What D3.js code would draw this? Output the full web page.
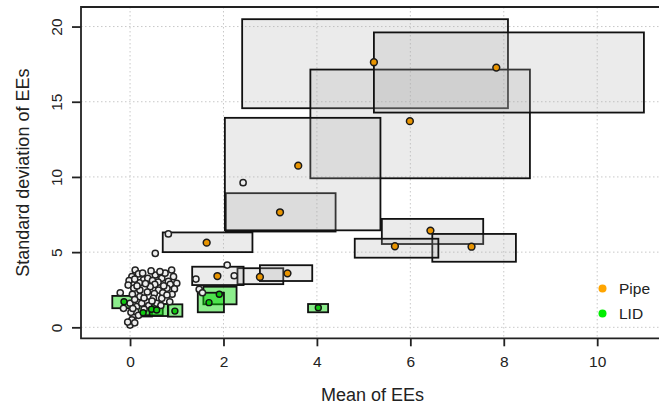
<!DOCTYPE html>
<html><head><meta charset="utf-8">
<script src="https://cdn.jsdelivr.net/npm/d3@7"></script>
<style>body{margin:0;background:#fff}svg{display:block;font-family:"Liberation Sans",Arial,sans-serif}</style>
</head><body><svg id="c" width="659" height="409"></svg>
<script>
// ---- data ----
const xTicks = [0, 2, 4, 6, 8, 10];
const yTicks = [0, 5, 10, 15, 20];
const xLabel = "Mean of EEs";
const yLabel = "Standard deviation of EEs";
const legendLabels = ["Pipe", "LID"];

// Pipe: point (mean, sd) and interval box [xlo,xhi] x [ylo,yhi], in drawing order
const pipeMean = [3.21, 5.22, 5.99, 7.84, 3.60, 1.64, 6.43, 7.31, 5.67, 2.78, 1.87, 3.37];
const pipeSd   = [7.65, 17.63, 13.71, 17.27, 10.75, 5.63, 6.43, 5.36, 5.39, 3.35, 3.41, 3.59];
const pipeXlo  = [2.05, 2.40, 3.86, 5.22, 2.03, 0.70, 5.39, 6.47, 4.81, 2.30, 1.33, 2.78];
const pipeXhi  = [4.40, 8.09, 8.56, 11.00, 5.36, 2.62, 7.56, 8.26, 6.60, 3.28, 2.43, 3.90];
const pipeYlo  = [6.37, 14.57, 9.91, 14.28, 6.45, 5.00, 5.54, 4.36, 4.63, 2.87, 2.81, 3.08];
const pipeYhi  = [8.92, 20.49, 17.14, 19.61, 13.93, 6.31, 7.21, 6.21, 5.89, 3.93, 4.03, 4.13];

// LID
const lidMean = [-0.13, 0.28, 0.46, 0.57, 0.96, 1.91, 1.69, 4.03];
const lidSd   = [1.70, 0.97, 1.20, 1.15, 1.08, 2.20, 1.64, 1.30];
const lidXlo  = [-0.38, 0.14, 0.30, 0.42, 0.81, 1.57, 1.45, 3.81];
const lidXhi  = [0.05, 0.47, 0.70, 0.82, 1.12, 2.28, 2.01, 4.24];
const lidYlo  = [1.27, 0.72, 0.80, 0.75, 0.71, 1.53, 1.00, 1.00];
const lidYhi  = [2.09, 1.45, 1.60, 1.55, 1.53, 2.70, 2.30, 1.55];

// other (grey) points: [mean, sd]
const otherPoints = [
 [0.11,3.81],[0.04,3.37],[0.18,3.55],[-0.02,3.10],[0.29,3.15],[0.20,2.95],[0.54,3.48],[0.68,3.26],
 [0.93,3.37],[0.89,3.81],[0.45,3.75],[0.75,3.60],[0.60,3.00],[0.82,3.05],[1.00,2.93],[0.38,3.25],
 [0.10,3.20],[0.48,3.10],[0.64,3.70],[0.86,2.85],[0.27,3.60],[0.53,2.85],
 [-0.04,2.81],[0.08,2.60],[0.21,2.48],[0.43,2.70],[0.61,2.48],[0.79,2.59],[0.95,2.55],[0.33,2.90],
 [0.52,2.25],[0.70,2.30],[0.90,2.20],[-0.21,2.30],[0.05,2.20],[0.15,2.75],[0.37,2.35],[0.72,2.75],
 [0.21,2.04],[0.36,1.70],[0.50,1.93],[0.68,1.93],[0.57,1.60],[0.79,2.15],[0.00,1.60],[0.14,1.37],
 [0.10,1.85],[0.25,1.60],[0.40,1.45],[0.66,1.45],[0.85,1.70],[-0.14,1.26],[0.30,1.95],[0.47,1.75],
 [0.07,0.71],[0.00,0.15],[0.04,0.49],[0.12,1.05],[0.02,1.00],[0.18,0.80],[0.30,1.20],[-0.05,0.35],
 [0.10,0.30],[0.06,1.25],
 [1.41,3.21],[1.48,2.53],[1.55,2.30],[2.08,4.14],[2.23,3.43],
 [0.82,6.21],[0.54,4.92],[2.42,9.62]
];

// ---- drawing ----
const svg = d3.select("#c");
const L = 81, R = 664, T = 7, B = 338.3;
const x = d3.scaleLinear().domain([-1.05, 11.43]).range([L, R]);
const y = d3.scaleLinear().domain([-0.73, 21.3]).range([B, T]);

// grid
const grid = svg.append("g").attr("stroke", "#c8c8c8").attr("stroke-width", 1).attr("stroke-dasharray", "1.5,2.5");
grid.selectAll(".gx").data(xTicks).join("line").attr("x1", d => x(d)).attr("x2", d => x(d)).attr("y1", T).attr("y2", B);
grid.selectAll(".gy").data(yTicks).join("line").attr("x1", L).attr("x2", R).attr("y1", d => y(d)).attr("y2", d => y(d));

const pipe = pipeMean.map((m, i) => ({m, s: pipeSd[i], x0: pipeXlo[i], x1: pipeXhi[i], y0: pipeYlo[i], y1: pipeYhi[i]}));
const lid = lidMean.map((m, i) => ({m, s: lidSd[i], x0: lidXlo[i], x1: lidXhi[i], y0: lidYlo[i], y1: lidYhi[i]}));

svg.append("g").selectAll("rect").data(pipe).join("rect")
  .attr("x", d => x(d.x0)).attr("y", d => y(d.y1))
  .attr("width", d => x(d.x1) - x(d.x0)).attr("height", d => y(d.y0) - y(d.y1))
  .attr("fill", "rgba(170,170,170,0.24)").attr("stroke", "#111").attr("stroke-width", 1.8);

svg.append("g").selectAll("rect").data(lid).join("rect")
  .attr("x", d => x(d.x0)).attr("y", d => y(d.y1))
  .attr("width", d => x(d.x1) - x(d.x0)).attr("height", d => y(d.y0) - y(d.y1))
  .attr("fill", "rgba(0,215,0,0.45)").attr("stroke", "#111").attr("stroke-width", 1.8);

// points
svg.append("g").selectAll("circle").data(otherPoints).join("circle")
  .attr("cx", d => x(d[0])).attr("cy", d => y(d[1])).attr("r", 3.1)
  .attr("fill", "#eeeeee").attr("stroke", "#222").attr("stroke-width", 1.5);
svg.append("g").selectAll("circle").data(pipe).join("circle")
  .attr("cx", d => x(d.m)).attr("cy", d => y(d.s)).attr("r", 3.4)
  .attr("fill", "#E89400").attr("stroke", "#1a1a1a").attr("stroke-width", 1.5);
svg.append("g").selectAll("circle").data(lid).join("circle")
  .attr("cx", d => x(d.m)).attr("cy", d => y(d.s)).attr("r", 3.0)
  .attr("fill", "#10C810").attr("stroke", "#111").attr("stroke-width", 1.4);

// box (left, top, bottom)
svg.append("path").attr("d", `M${R},${T}H${L}V${B}H${R}`).attr("fill", "none").attr("stroke", "#222").attr("stroke-width", 1.8);

// axes
const xAxis = svg.append("g").attr("transform", `translate(0,${B})`)
  .call(d3.axisBottom(x).tickValues(xTicks).tickSize(8).tickFormat(d3.format("d")));
xAxis.select(".domain").remove();
xAxis.selectAll("line").attr("stroke", "#222").attr("stroke-width", 1.8);
xAxis.selectAll("text").attr("font-size", 15.5).attr("fill", "#222").attr("dy", null).attr("y", 28.5);

const yAxis = svg.append("g").attr("transform", `translate(${L},0)`)
  .call(d3.axisLeft(y).tickValues(yTicks).tickSize(9).tickFormat(d3.format("d")));
yAxis.select(".domain").remove();
yAxis.selectAll("line").attr("stroke", "#222").attr("stroke-width", 1.8);
yAxis.selectAll("text").attr("font-size", 15.5).attr("fill", "#222")
  .attr("x", null).attr("dy", null).attr("text-anchor", "middle")
  .attr("transform", "translate(-19,0) rotate(-90)");

// axis titles
svg.append("text").attr("x", (L + R) / 2).attr("y", 401).attr("text-anchor", "middle")
  .attr("font-size", 18).attr("fill", "#222").text(xLabel);
svg.append("text").attr("transform", `translate(28.5,${(T + B) / 2}) rotate(-90)`).attr("text-anchor", "middle")
  .attr("font-size", 18).attr("fill", "#222").text(yLabel);

// legend
const legColors = ["#FFA500", "#00EE00"];
const leg = svg.append("g");
legendLabels.forEach((t, i) => {
  leg.append("circle").attr("cx", 602.5).attr("cy", 288.5 + i * 25).attr("r", 4).attr("fill", legColors[i]);
  leg.append("text").attr("x", 619).attr("y", 294 + i * 25).attr("font-size", 15.5).attr("fill", "#222").text(t);
});
</script></body></html>
